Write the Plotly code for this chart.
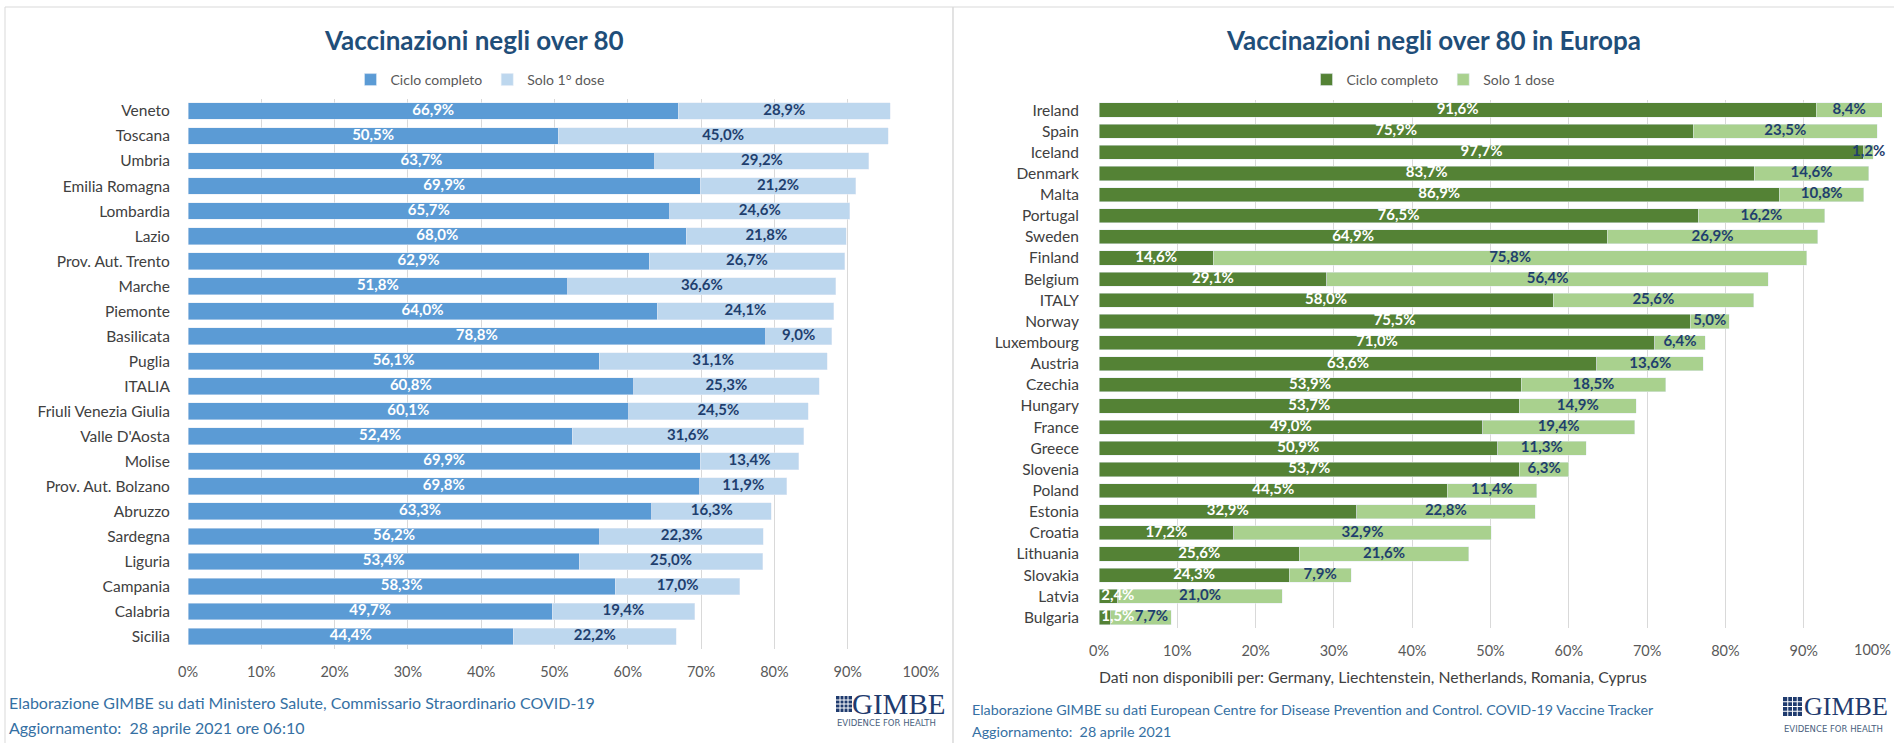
import plotly.graph_objects as go

# ---------------- DATA ----------------
regions = ["Veneto", "Toscana", "Umbria", "Emilia Romagna", "Lombardia", "Lazio",
           "Prov. Aut. Trento", "Marche", "Piemonte", "Basilicata", "Puglia", "ITALIA",
           "Friuli Venezia Giulia", "Valle D'Aosta", "Molise", "Prov. Aut. Bolzano",
           "Abruzzo", "Sardegna", "Liguria", "Campania", "Calabria", "Sicilia"]
it_full = [66.9, 50.5, 63.7, 69.9, 65.7, 68.0, 62.9, 51.8, 64.0, 78.8, 56.1, 60.8,
           60.1, 52.4, 69.9, 69.8, 63.3, 56.2, 53.4, 58.3, 49.7, 44.4]
it_first = [28.9, 45.0, 29.2, 21.2, 24.6, 21.8, 26.7, 36.6, 24.1, 9.0, 31.1, 25.3,
            24.5, 31.6, 13.4, 11.9, 16.3, 22.3, 25.0, 17.0, 19.4, 22.2]

countries = ["Ireland", "Spain", "Iceland", "Denmark", "Malta", "Portugal", "Sweden",
             "Finland", "Belgium", "ITALY", "Norway", "Luxembourg", "Austria", "Czechia",
             "Hungary", "France", "Greece", "Slovenia", "Poland", "Estonia", "Croatia",
             "Lithuania", "Slovakia", "Latvia", "Bulgaria"]
eu_full = [91.6, 75.9, 97.7, 83.7, 86.9, 76.5, 64.9, 14.6, 29.1, 58.0, 75.5, 71.0, 63.6,
           53.9, 53.7, 49.0, 50.9, 53.7, 44.5, 32.9, 17.2, 25.6, 24.3, 2.4, 1.5]
eu_first = [8.4, 23.5, 1.2, 14.6, 10.8, 16.2, 26.9, 75.8, 56.4, 25.6, 5.0, 6.4, 13.6,
            18.5, 14.9, 19.4, 11.3, 6.3, 11.4, 22.8, 32.9, 21.6, 7.9, 21.0, 7.7]

tick_vals = [0, 10, 20, 30, 40, 50, 60, 70, 80, 90, 100]
tick_text = ["0%", "10%", "20%", "30%", "40%", "50%", "60%", "70%", "80%", "90%", "100%"]

left_title = "Vaccinazioni negli over 80"
right_title = "Vaccinazioni negli over 80 in Europa"
left_names = ["Ciclo completo", "Solo 1° dose"]
right_names = ["Ciclo completo", "Solo 1 dose"]
missing_note = "Dati non disponibili per: Germany, Liechtenstein, Netherlands, Romania, Cyprus"
left_src = "Elaborazione GIMBE su dati Ministero Salute, Commissario Straordinario COVID-19"
left_upd = "Aggiornamento:\u00a0 28 aprile 2021 ore 06:10"
right_src = "Elaborazione GIMBE su dati European Centre for Disease Prevention and Control. COVID-19 Vaccine Tracker"
right_upd = "Aggiornamento:\u00a0 28 aprile 2021"

# ---------------- STYLE ----------------
W, H = 1894, 743
FONT = "Lato"
BLUE_D, BLUE_L = "#5B9BD5", "#BDD7EE"
GREEN_D, GREEN_L = "#548235", "#A9D18E"
NAVY = "#1F3F6E"
TITLE_C = "#1F4E79"
FOOT_C = "#3570A3"
GRID_C = "#D9D9D9"
TICK_C = "#595959"


def fx(p):
    return p / W


def fy(p):
    return 1 - p / H


def fmt(v):
    return f"{v:.1f}".replace(".", ",") + "%"


def label_positions(full, first, min_center=0.0, min_sep=0.0):
    dark_x = [max(f / 2, min_center) for f in full]
    light_x = [max(f + s / 2, dx + min_sep) for f, s, dx in zip(full, first, dark_x)]
    return dark_x, light_x


fig = go.Figure()


def add_panel(cats, full, first, names, cdark, clight, xa, ya, leg, min_center, min_sep):
    fig.add_trace(go.Bar(y=cats, x=full, orientation="h", name=names[0], marker_color=cdark,
                         xaxis=xa, yaxis=ya, legend=leg, hoverinfo="skip"))
    fig.add_trace(go.Bar(y=cats, x=first, orientation="h", name=names[1], marker_color=clight,
                         xaxis=xa, yaxis=ya, legend=leg, hoverinfo="skip"))
    dx, lx = label_positions(full, first, min_center, min_sep)
    fig.add_trace(go.Scatter(x=dx, y=cats, mode="text", text=[fmt(v) for v in full],
                             textfont=dict(family=FONT, size=15, color="white", weight="bold"),
                             xaxis=xa, yaxis=ya, showlegend=False, hoverinfo="skip",
                             cliponaxis=False))
    fig.add_trace(go.Scatter(x=lx, y=cats, mode="text", text=[fmt(v) for v in first],
                             textfont=dict(family=FONT, size=15, color=NAVY, weight="bold"),
                             xaxis=xa, yaxis=ya, showlegend=False, hoverinfo="skip",
                             cliponaxis=False))


add_panel(regions, it_full, it_first, left_names, BLUE_D, BLUE_L, "x", "y", "legend", 0, 0)
add_panel(countries, eu_full, eu_first, right_names, GREEN_D, GREEN_L, "x2", "y2", "legend2", 2.4, 4.3)

xcommon = dict(range=[0, 100], tickvals=tick_vals, ticktext=tick_text, showgrid=True,
               gridcolor=GRID_C, gridwidth=1, zeroline=False, showline=False,
               ticks="outside", ticklen=10, tickcolor="rgba(0,0,0,0)",
               tickfont=dict(family=FONT, size=14.5, color=TICK_C), fixedrange=True,
               automargin=False)
ycommon = dict(showgrid=False, zeroline=False, showline=False, ticks="outside",
               tickcolor="rgba(0,0,0,0)", tickfont=dict(family=FONT, size=15.5, color="#404040"),
               fixedrange=True, type="category", automargin=False)

fig.update_layout(
    width=W, height=H, margin=dict(l=0, r=0, t=0, b=0, pad=0, autoexpand=False),
    paper_bgcolor="white", plot_bgcolor="white",
    barmode="stack", bargap=0.33,
    xaxis=dict(domain=[fx(188), fx(921)], anchor="y", **xcommon),
    yaxis=dict(domain=[fy(649), fy(98.5)], anchor="x", ticklen=14,
               range=[len(regions) - 0.5, -0.5], **ycommon),
    xaxis2=dict(domain=[fx(1099), fx(1882)], anchor="y2", **xcommon),
    yaxis2=dict(domain=[fy(628), fy(99.5)], anchor="x2", ticklen=16,
                range=[len(countries) - 0.5, -0.5], **ycommon),
    legend=dict(orientation="h", x=fx(480), xanchor="center", y=fy(80), yanchor="middle",
                font=dict(family=FONT, size=14, color=TICK_C), bgcolor="rgba(0,0,0,0)",
                itemwidth=30, traceorder="normal"),
    legend2=dict(orientation="h", x=fx(1433), xanchor="center", y=fy(80), yanchor="middle",
                 font=dict(family=FONT, size=14, color=TICK_C), bgcolor="rgba(0,0,0,0)",
                 itemwidth=30, traceorder="normal"),
    showlegend=True,
)

ann = []
ann.append(dict(text=left_title, x=fx(474), y=fy(40), xref="paper", yref="paper",
                showarrow=False, xanchor="center", yanchor="middle",
                font=dict(family=FONT, size=26, color=TITLE_C, weight="bold")))
ann.append(dict(text=right_title, x=fx(1433), y=fy(40), xref="paper", yref="paper",
                showarrow=False, xanchor="center", yanchor="middle",
                font=dict(family=FONT, size=26, color=TITLE_C, weight="bold")))
# last tick label of the right axis sits at the page edge: keep it just inside
ann.append(dict(text=tick_text[-1], x=fx(1893), xref="paper", y=fy(649), yref="paper",
                showarrow=False, xanchor="right", yanchor="middle",
                font=dict(family=FONT, size=14.5, color=TICK_C)))
ann.append(dict(text=missing_note, x=fx(1097), y=fy(676), xref="paper", yref="paper",
                showarrow=False, xanchor="left", yanchor="middle",
                font=dict(family=FONT, size=15.8, color="#404040")))
for txt, x, y, s in [(left_src, 7, 702, 16), (left_upd, 7, 727, 16),
                     (right_src, 970, 709, 14.3), (right_upd, 970, 731, 14.3)]:
    ann.append(dict(text=txt, x=fx(x), y=fy(y), xref="paper", yref="paper", showarrow=False,
                    xanchor="left", yanchor="middle", font=dict(family=FONT, size=s, color=FOOT_C)))

shapes = []
# panel borders
shapes.append(dict(type="rect", xref="paper", yref="paper", x0=fx(5), x1=fx(953), y0=-0.05, y1=fy(7),
                   line=dict(color="#D9D9D9", width=1), fillcolor="rgba(0,0,0,0)", layer="below"))
shapes.append(dict(type="rect", xref="paper", yref="paper", x0=fx(953), x1=1.02, y0=-0.05, y1=fy(7),
                   line=dict(color="#D9D9D9", width=1), fillcolor="rgba(0,0,0,0)", layer="below"))


def add_logo(ix, iy, isz, gx, gsize, ex, ey, esize):
    shapes.append(dict(type="rect", xref="paper", yref="paper", x0=fx(ix), x1=fx(ix + isz),
                       y0=fy(iy + isz), y1=fy(iy), line=dict(width=0), fillcolor="#1F3B6E"))
    n = 4
    for k in range(1, n):
        p = k * isz / n
        shapes.append(dict(type="line", xref="paper", yref="paper", x0=fx(ix + p), x1=fx(ix + p),
                           y0=fy(iy + isz), y1=fy(iy), line=dict(color="white", width=1)))
        shapes.append(dict(type="line", xref="paper", yref="paper", x0=fx(ix), x1=fx(ix + isz),
                           y0=fy(iy + p), y1=fy(iy + p), line=dict(color="white", width=1)))
    ann.append(dict(text="GIMBE", x=fx(gx), y=fy(iy + isz / 2), xref="paper", yref="paper",
                    showarrow=False, xanchor="left", yanchor="middle",
                    font=dict(family="Liberation Serif", size=gsize, color="#1F3B6E")))
    ann.append(dict(text="EVIDENCE FOR HEALTH", x=fx(ex), y=fy(ey), xref="paper", yref="paper",
                    showarrow=False, xanchor="left", yanchor="middle",
                    font=dict(family="DejaVu Sans", size=esize, color="#4A5F80")))


add_logo(836, 696, 16, 850, 29, 835, 723, 8.5)
add_logo(1783, 697, 19, 1802, 26, 1782, 729, 8.5)

fig.update_layout(annotations=ann, shapes=shapes)
fig.write_html("out.html", config={"displayModeBar": False},
               post_script="document.body.style.margin='0px';document.body.style.padding='0px';"
                           "document.body.style.overflow='hidden';")
